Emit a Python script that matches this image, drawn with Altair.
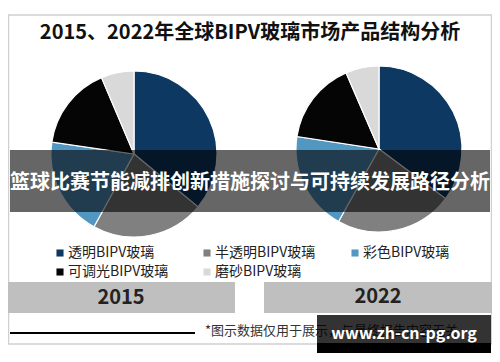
import altair as alt
import pandas as pd

# ---- data ----
categories = ["透明BIPV玻璃", "半透明BIPV玻璃", "彩色BIPV玻璃", "可调光BIPV玻璃", "磨砂BIPV玻璃"]
colors = ["#0c3862", "#808080", "#5297c2", "#050505", "#d9d9d9"]
share_2015 = [36.0, 22.0, 19.3, 16.3, 6.4]
share_2022 = [35.2, 22.9, 19.3, 16.1, 6.5]
years = ["2015", "2022"]

title_text = "2015、2022年全球BIPV玻璃市场产品结构分析"
banner_text = "篮球比赛节能减排创新措施探讨与可持续发展路径分析"
note_text = "*图示数据仅用于展示，与最终报告内容无关"
mark_text = "www.zh-cn-pg.org"

W, H = 484, 346
FONT = "Noto Sans CJK SC"

rows = []
for yr, vals in zip(years, [share_2015, share_2022]):
    for i, (c, v) in enumerate(zip(categories, vals)):
        rows.append({"year": yr, "category": c, "share": v, "idx": i})
pie_df = pd.DataFrame(rows)

one = pd.DataFrame({"a": [0]})
color_scale = alt.Scale(domain=categories, range=colors)


def rect(x, x2, y, y2, **kw):
    return alt.Chart(one).mark_rect(**kw).encode(
        x=alt.value(x), x2=alt.value(x2), y=alt.value(y), y2=alt.value(y2))


def label(text, x, y, **kw):
    return alt.Chart(one).mark_text(text=text, font=FONT, **kw).encode(
        x=alt.value(x), y=alt.value(y))


def pie(year, cx, cy):
    return alt.Chart(pie_df).transform_filter(alt.datum.year == year).mark_arc(
        radius=83, stroke="white", strokeWidth=1.2
    ).encode(
        theta=alt.Theta("share:Q", stack=True),
        order=alt.Order("idx:Q"),
        color=alt.Color("category:N", scale=color_scale, legend=None),
        x=alt.value(cx), y=alt.value(cy),
    )


# outer frame
frame = rect(0.5, 483.5, 7, 336, fill="white", stroke="#d0d0d0", strokeWidth=1.5)
title = label(title_text, 242, 25, fontSize=20, fontWeight="bold", color="#111",
              align="center", baseline="middle")

pie1 = pie("2015", 126, 146)
pie2 = pie("2022", 371, 141)

banner = rect(2, 482, 142, 204, fill="black", opacity=0.6)
banner_lbl = label(banner_text, 242, 175, fontSize=20, fontWeight="bold", color="white",
                   align="center", baseline="middle")

# legend (manual, 3 columns)
col_x = [52, 199, 347]
row_y = [245, 264]
leg_df = pd.DataFrame({
    "category": categories,
    "lx": [col_x[i % 3] for i in range(len(categories))],
    "ly": [row_y[i // 3] for i in range(len(categories))],
})
leg_sq = alt.Chart(leg_df).mark_square(size=50, opacity=1).encode(
    x=alt.X("lx:Q", scale=None, axis=None),
    y=alt.Y("ly:Q", scale=None, axis=None),
    color=alt.Color("category:N", scale=color_scale, legend=None),
)
leg_tx = alt.Chart(leg_df).mark_text(
    font=FONT, fontSize=14, align="left", baseline="middle", dx=8, color="#222"
).encode(
    x=alt.X("lx:Q", scale=None, axis=None),
    y=alt.Y("ly:Q", scale=None, axis=None),
    text="category:N",
)

# year boxes
box1 = rect(0, 227, 274, 305, fill="#bfbfbf")
box2 = rect(256, 484, 274, 305, fill="#bfbfbf")
yr1 = label(years[0], 113, 290, fontSize=20, fontWeight="bold", color="#222",
            align="center", baseline="middle")
yr2 = label(years[1], 370, 289, fontSize=20, fontWeight="bold", color="#222",
            align="center", baseline="middle")

# footnote
note_line = alt.Chart(one).mark_rule(color="black", strokeWidth=2).encode(
    x=alt.value(2), x2=alt.value(187), y=alt.value(325))
note = label(note_text, 197, 323, fontSize=13, color="#333", align="left",
             baseline="middle")

# watermark
wm_box = rect(309, 483, 307, 345, fill="black", opacity=0.8)
wm_strip = rect(309, 483, 335, 345, fill="black")
wm_txt = label(mark_text, 396, 326, fontSize=16, fontWeight="bold", color="white",
               align="center", baseline="middle")

chart = alt.layer(
    frame, title, pie1, pie2, banner, banner_lbl, leg_sq, leg_tx,
    box1, box2, yr1, yr2, note_line, note, wm_box, wm_strip, wm_txt
).properties(
    width=W, height=H, autosize="none", padding=0, background="white"
).configure_view(stroke=None)

chart.save("out.html", embed_options={"renderer": "svg", "actions": False})
